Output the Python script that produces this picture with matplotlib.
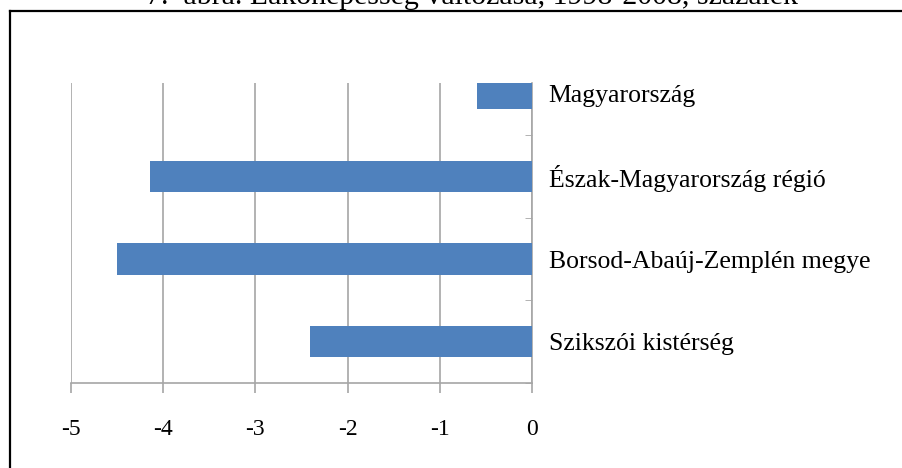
import matplotlib.pyplot as plt
from matplotlib.lines import Line2D
import numpy as np

plt.rcParams['font.family'] = ['Liberation Serif', 'DejaVu Serif']

categories = ['Szikszói kistérség', 'Borsod-Abaúj-Zemplén megye',
              'Észak-Magyarország régió', 'Magyarország']
values = [-2.41, -4.50, -4.14, -0.60]
xticks = [-5, -4, -3, -2, -1, 0]
title = '7.  ábra. Lakónépesség változása, 1998-2008, százalék'

fig = plt.figure(figsize=(9.02, 4.68), dpi=100)
ax = fig.add_axes([71/902, 1-383/468, (532-71)/902, (383-83)/468])

y = np.arange(len(categories))
ax.barh(y, values, height=0.38, color='#4F81BD', zorder=3)

ax.set_xlim(-5, 0)
ax.set_ylim(-0.5, 3.13)
ax.set_xticks(xticks)
ax.set_xticklabels([str(v) for v in xticks], fontsize=17)
ax.xaxis.grid(True, color='#a6a6a6', linewidth=1.2, zorder=0)

ax.yaxis.tick_right()
ax.set_yticks(y)
ax.set_yticklabels(categories, fontsize=18.5)
ax.set_yticks(np.arange(-0.5, 3.0, 1.0), minor=True)
ax.tick_params(axis='y', which='major', length=0, pad=12)
ax.tick_params(axis='y', which='minor', length=5, direction='in', color='#a6a6a6')
ax.tick_params(axis='x', length=7, width=1.2, color='#a6a6a6', pad=19)

for s in ['left', 'top']:
    ax.spines[s].set_visible(False)
for s in ['right', 'bottom']:
    ax.spines[s].set_color('#a6a6a6')
    ax.spines[s].set_linewidth(1.2)

# outer frame (top and left edges visible)
fig.add_artist(Line2D([10/902, 1], [1-11/468, 1-11/468], color='black', linewidth=1.6))
fig.add_artist(Line2D([10/902, 10/902], [0, 1-11/468], color='black', linewidth=1.6))

fig.text(472/902, 1-4/468, title, ha='center', va='baseline', fontsize=21.5)

fig.savefig('out.png', dpi=100)
